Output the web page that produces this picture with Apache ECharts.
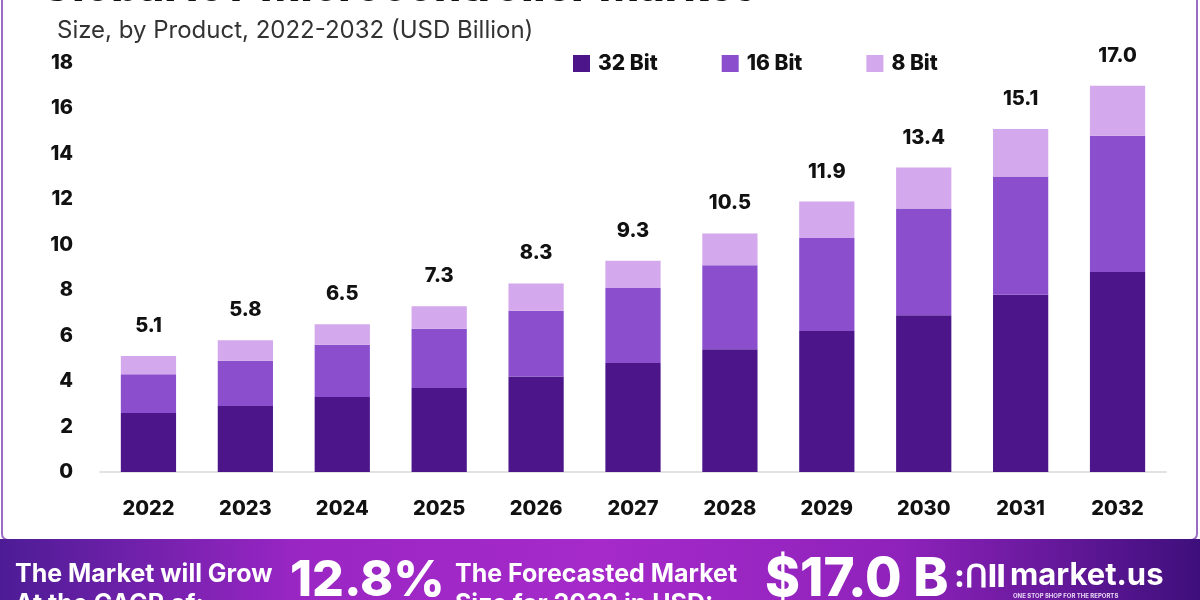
<!DOCTYPE html>
<html>
<head>
<meta charset="utf-8">
<script src="https://cdn.jsdelivr.net/npm/echarts@6/dist/echarts.min.js"></script>
<style>
html,body{margin:0;padding:0;background:#fff;}
#chart{width:1200px;height:600px;}
</style>
</head>
<body>
<div id="chart"></div>
<script>
const years = ['2022','2023','2024','2025','2026','2027','2028','2029','2030','2031','2032'];
const bit32 = [2.6, 2.9, 3.3, 3.7, 4.2, 4.8, 5.4, 6.2, 6.9, 7.8, 8.8];
const bit16 = [1.7, 2.0, 2.3, 2.6, 2.9, 3.3, 3.7, 4.1, 4.7, 5.2, 6.0];
const bit8  = [0.8, 0.9, 0.9, 1.0, 1.2, 1.2, 1.4, 1.6, 1.8, 2.1, 2.2];
const totals = ['5.1','5.8','6.5','7.3','8.3','9.3','10.5','11.9','13.4','15.1','17.0'];
const seriesNames = ['32 Bit','16 Bit','8 Bit'];
const yTicks = [0,2,4,6,8,10,12,14,16,18];

const FONT = 'Inter';
const colors = ['#4c168a','#8b4fcd','#d3a8ec'];
const chart = echarts.init(document.getElementById('chart'));

const mk = (name, data, i) => ({
  name, type: 'bar', stack: 'total', data, barWidth: '57%',
  itemStyle: { color: colors[i] },
  label: i === 2 ? {
    show: true, position: 'top', distance: 20,
    formatter: p => totals[p.dataIndex],
    color: '#111', fontFamily: FONT, fontWeight: 800, fontSize: 20
  } : { show: false }
});

chart.setOption({
  animation: false,
  backgroundColor: '#ffffff',
  grid: { left: 100, right: 34, top: 63, bottom: 128 },
  legend: {
    data: seriesNames, left: 568, top: 48, itemWidth: 17, itemHeight: 17, itemGap: 64,
    icon: 'rect',
    textStyle: { color: '#111', fontFamily: FONT, fontWeight: 800, fontSize: 21, padding: [0,0,0,3] }
  },
  xAxis: {
    type: 'category', data: years,
    axisLine: { lineStyle: { color: '#d9d9d9', width: 1.5 } },
    axisTick: { show: false },
    axisLabel: { color: '#111', fontFamily: FONT, fontWeight: 800, fontSize: 20, margin: 27 }
  },
  yAxis: {
    type: 'value', min: 0, max: 18, interval: 2,
    splitLine: { show: false },
    axisLine: { show: false }, axisTick: { show: false },
    axisLabel: { color: '#111', fontFamily: FONT, fontWeight: 800, fontSize: 20, margin: 27,
      formatter: v => yTicks.includes(v) ? String(v) : '' }
  },
  series: [mk(seriesNames[0], bit32, 0), mk(seriesNames[1], bit16, 1), mk(seriesNames[2], bit8, 2)],
  graphic: [
    { type: 'rect', shape: { x: 2, y: -5, width: 1195, height: 545, r: 6 }, silent: true, z: -1,
      style: { fill: 'none', stroke: '#9a6cc4', lineWidth: 2 } },
    { type: 'text', left: 40, top: -33, silent: true,
      style: { text: 'Global IoT Microcontroller Market', fill: '#111', font: '800 43px ' + FONT } },
    { type: 'text', left: 57, top: 19, silent: true,
      style: { text: 'Size, by Product, 2022-2032 (USD Billion)', fill: '#333', font: '400 24px ' + FONT } },
    { type: 'rect', shape: { x: 0, y: 539, width: 1200, height: 61 }, silent: true,
      style: { fill: new echarts.graphic.LinearGradient(0, 0, 1, 0, [
        { offset: 0, color: '#4d1c95' }, { offset: 0.25, color: '#9a26c4' },
        { offset: 0.5, color: '#a52ac9' }, { offset: 0.75, color: '#8f22bb' },
        { offset: 1, color: '#3e0f7c' }]) } },
    { type: 'text', left: 15, top: 559, silent: true,
      style: { text: 'The Market will Grow\nAt the CAGR of:', fill: '#fff', font: '700 25px ' + FONT, lineHeight: 30 } },
    { type: 'text', left: 290, top: 556, silent: true,
      style: { text: '12.8%', fill: '#fff', font: '800 50px ' + FONT } },
    { type: 'text', left: 455, top: 559, silent: true,
      style: { text: 'The Forecasted Market\nSize for 2032 in USD:', fill: '#fff', font: '700 25px ' + FONT, lineHeight: 30 } },
    { type: 'text', left: 765, top: 554, silent: true,
      style: { text: '$17.0 B', fill: '#fff', font: '800 53px ' + FONT } },
    { type: 'text', left: 954, top: 562, silent: true,
      style: { text: ':ՈIl', fill: '#fff', font: '800 31px ' + FONT } },
    { type: 'text', left: 1010, top: 560, silent: true,
      style: { text: 'market.us', fill: '#fff', font: '700 31px ' + FONT } },
    { type: 'text', left: 1013, top: 593, silent: true,
      style: { text: 'ONE STOP SHOP FOR THE REPORTS', fill: '#e8d8f5', font: '700 6px ' + FONT } }
  ]
});
</script>
</body>
</html>
